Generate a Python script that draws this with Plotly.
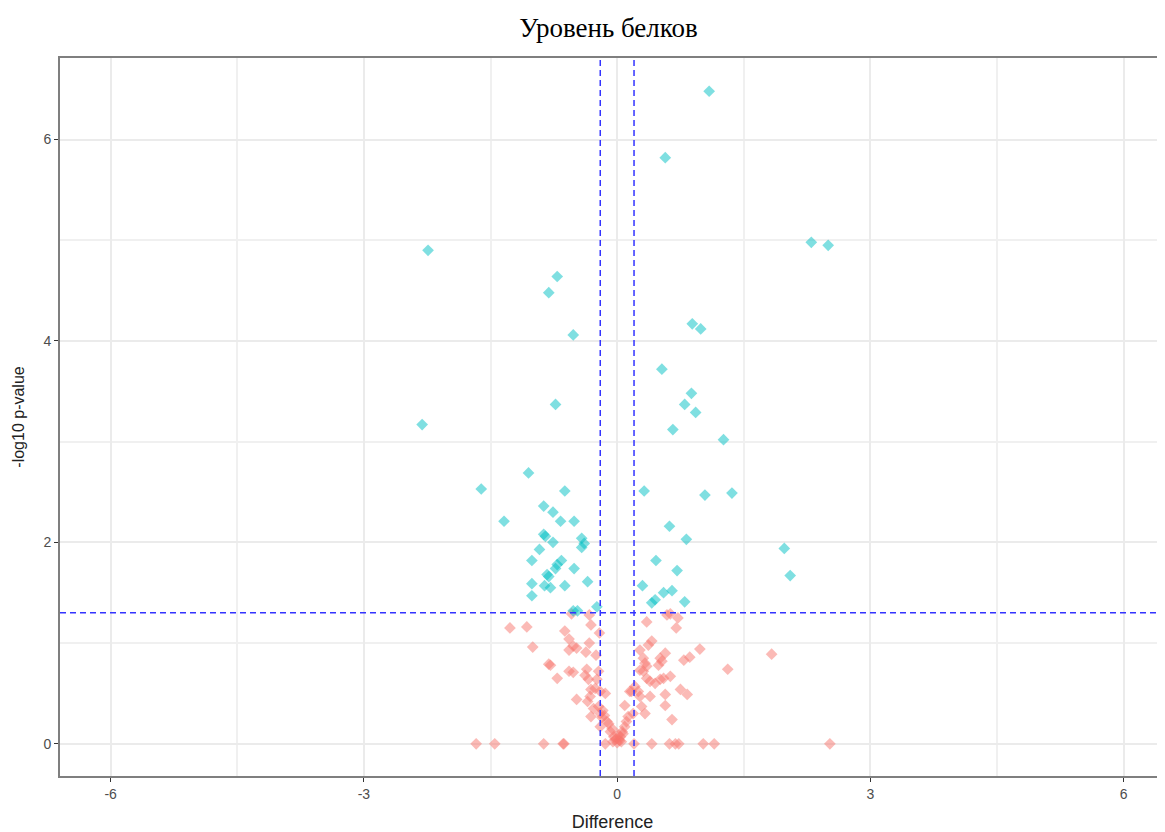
import plotly.graph_objects as go

# Significant proteins (p < 0.05)
sig_x = [1.09, 0.57, -2.24, 2.30, 2.50, -0.71, -0.81, -0.52, 0.89, 0.99, 0.53, 0.88, 0.80, 0.93,
         0.66, 1.26, -0.73, -2.31, -1.05, -1.61, -0.62, 0.32, 1.04, 1.36, -0.87, -0.76, -1.34,
         -0.67, -0.51, 0.62, 0.82, -0.87, -0.85, -0.42, -0.39, -0.42, -0.76, 1.98, -0.92, -1.01,
         -0.66, -0.71, -0.73, -0.51, 0.46, 0.71, 2.05, -0.83, -0.81, -1.01, -0.86, -0.79, -0.62,
         -0.35, 0.30, -1.01, 0.55, 0.65, 0.80, 0.41, 0.45, -0.52, -0.47, -0.24]
sig_y = [6.48, 5.82, 4.90, 4.98, 4.95, 4.64, 4.48, 4.06, 4.17, 4.12, 3.72, 3.48, 3.37, 3.29,
         3.12, 3.02, 3.37, 3.17, 2.69, 2.53, 2.51, 2.51, 2.47, 2.49, 2.36, 2.30, 2.21,
         2.21, 2.21, 2.16, 2.03, 2.08, 2.06, 2.04, 1.99, 1.95, 2.00, 1.94, 1.93, 1.82,
         1.82, 1.78, 1.74, 1.74, 1.82, 1.72, 1.67, 1.68, 1.66, 1.59, 1.57, 1.55, 1.57,
         1.61, 1.57, 1.47, 1.50, 1.52, 1.41, 1.40, 1.43, 1.32, 1.32, 1.36]

# Non-significant proteins
ns_x = [-0.54, -0.33, -0.31, -0.21, -1.27, -1.07, -0.62, -0.57, -0.52, -0.48, -0.57, -0.33, -0.37,
        -0.25, -1.00, -0.81, -0.79, -0.36, -0.57, -0.52, -0.22, -0.71, -0.38, -0.34, -0.24, -0.31,
        -0.26, -0.20, -0.14, -0.48, -0.35, -0.28, -0.22, -0.20, -0.31, -0.18, -0.12, -0.20, -0.08,
        -0.04, -0.02, 0.02, 0.00, 0.04, 0.06, 0.09, 0.11, 0.13, 0.09, 0.19, 0.17, 0.21, 0.27, 0.25,
        0.29, 0.33, 0.27, 0.31, 0.33, 0.37, 0.41, 0.35, 0.27, 0.31, 0.35, 0.35, 0.39, 0.45, 0.51,
        0.55, 0.63, 0.51, 0.57, 0.49, 0.53, 0.39, 0.57, 0.57, 0.65, 0.75, 0.83, 0.79, 0.86, 0.98,
        1.31, 1.83, 0.59, 0.63, 0.72, 0.70,
        -1.67, -1.45, -0.87, -0.64, -0.63, -0.14, 0.20, 0.41, 0.62, 0.69, 0.73, 1.02, 1.15, 2.52,
        -0.05, 0.03, -0.01, 0.05, 0.01, -0.06, 0.07, -0.10, 0.15, -0.32, -0.17, -0.15]
ns_y = [1.29, 1.28, 1.18, 1.10, 1.15, 1.16, 1.12, 1.04, 0.97, 0.95, 0.93, 1.00, 0.91,
        0.88, 0.96, 0.79, 0.78, 0.74, 0.72, 0.71, 0.72, 0.65, 0.68, 0.64, 0.64, 0.54,
        0.55, 0.52, 0.50, 0.44, 0.42, 0.35, 0.37, 0.30, 0.27, 0.26, 0.22, 0.17, 0.12,
        0.07, 0.04, 0.04, 0.01, 0.07, 0.12, 0.17, 0.22, 0.27, 0.38, 0.30, 0.52, 0.57, 0.47, 0.52,
        0.37, 0.30, 0.93, 0.85, 0.80, 0.98, 1.02, 1.21, 0.73, 0.72, 0.77, 0.65, 0.62, 0.60, 0.64,
        0.65, 0.67, 0.85, 0.90, 0.78, 0.82, 0.47, 0.49, 0.38, 0.24, 0.54, 0.49, 0.83, 0.86, 0.94,
        0.74, 0.89, 1.28, 1.29, 1.25, 1.15,
        0, 0, 0, 0, 0, 0, 0, 0, 0, 0, 0, 0, 0, 0,
        0.02, 0.03, 0.05, 0.02, 0.09, 0.15, 0.10, 0.20, 0.52, 0.47, 0.33, 0.28]

fc_threshold = 0.2
p_threshold = 1.3

x_ticks = [-6, -3, 0, 3, 6]
y_ticks = [0, 2, 4, 6]

fig = go.Figure()
fig.add_trace(go.Scatter(x=ns_x, y=ns_y, mode="markers",
                         marker=dict(symbol="diamond", size=9, color="#F8766D", opacity=0.5),
                         showlegend=False))
fig.add_trace(go.Scatter(x=sig_x, y=sig_y, mode="markers",
                         marker=dict(symbol="diamond", size=9, color="#00BFC4", opacity=0.5),
                         showlegend=False))

dash_style = dict(color="#3333FF", width=1.5, dash="6px,4px")
fig.add_vline(x=-fc_threshold, line=dash_style)
fig.add_vline(x=fc_threshold, line=dash_style)
fig.add_hline(y=p_threshold, line=dash_style)

axis_common = dict(
    showgrid=True, gridcolor="#EBEBEB", gridwidth=1.5,
    zeroline=False, showline=True, linecolor="#7F7F7F", linewidth=2, mirror=True,
    ticks="outside", ticklen=4, tickcolor="#333333", automargin=False,
    tickfont=dict(family="Liberation Sans, Arial", size=14, color="#4D4D4D"),
)

fig.update_xaxes(range=[-6.6, 6.49], tickvals=x_ticks, ticktext=[str(v) for v in x_ticks],
                 minor=dict(showgrid=True, gridcolor="#F0F0F0", gridwidth=1.5, dtick=1.5, tick0=0),
                 title=dict(text="Difference", font=dict(family="Liberation Sans, Arial", size=18, color="#222222")),
                 **axis_common)
fig.update_yaxes(range=[-0.32, 6.81], tickvals=y_ticks, ticktext=[str(v) for v in y_ticks],
                 minor=dict(showgrid=True, gridcolor="#F0F0F0", gridwidth=1.5, dtick=1, tick0=0),
                 title=dict(text="-log10 p-value", font=dict(family="Liberation Sans, Arial", size=16, color="#222222")),
                 **axis_common)

fig.update_layout(
    width=1157, height=824,
    margin=dict(l=52, r=0, t=50, b=56, autoexpand=False),
    plot_bgcolor="white", paper_bgcolor="white",
    title=dict(text="Уровень белков", x=0.519, xanchor="center", y=0.976, yanchor="middle",
               font=dict(family="Liberation Serif, Times New Roman", size=27, color="#000000")),
)

fig.write_html("out.html")
